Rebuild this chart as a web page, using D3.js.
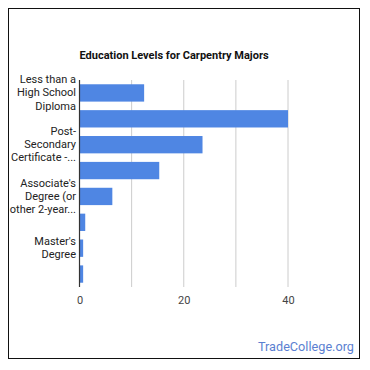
<!DOCTYPE html>
<html><head><meta charset="utf-8">
<script src="https://cdn.jsdelivr.net/npm/d3@7"></script>
<style>body{margin:0;background:#fff}svg{display:block}text{font-family:Roboto,sans-serif}</style>
</head><body><svg id="c" width="370" height="370"></svg>
<script>
const categories = ["Less than a High School Diploma","High School Diploma","Post-Secondary Certificate","Some College Courses","Associate's Degree (or other 2-year degree)","Bachelor's Degree","Master's Degree","Doctoral Degree"];
const values = [12.4, 40, 23.6, 15.3, 6.3, 1.1, 0.7, 0.7];
const labelLines = [["Less than a","High School","Diploma"],null,["Post-","Secondary","Certificate -..."],null,["Associate's","Degree (or","other 2-year..."],null,["Master's","Degree"],null];
const tickValues = [0, 20, 40];
const gridValues = [10, 20, 30, 40];
const title = "Education Levels for Carpentry Majors";
const footer = "TradeCollege.org";

(function(){
const svg = d3.select("#c");
svg.append("rect").attr("x",8.5).attr("y",8.5).attr("width",351).attr("height",350)
  .attr("fill","#fff").attr("stroke","#111").attr("stroke-width",1);

const pLeft = 79.5, pRight = 288, pTop = 80, pBottom = 287;
const x = d3.scaleLinear().domain([0,40]).range([pLeft,pRight]);
const y = d3.scaleBand().domain(categories).range([pTop,pBottom]).paddingInner(0.33).paddingOuter(0.165);

svg.append("g").selectAll("line").data(gridValues).join("line")
  .attr("x1",d=>x(d)).attr("x2",d=>x(d)).attr("y1",pTop).attr("y2",pBottom)
  .attr("stroke","#cccccc").attr("stroke-width",1);

svg.append("g").selectAll("rect").data(values).join("rect")
  .attr("x",x(0)).attr("y",(d,i)=>y(categories[i]))
  .attr("width",d=>x(d)-x(0)).attr("height",y.bandwidth())
  .attr("fill","#4f86e3");

svg.append("line").attr("x1",x(0)).attr("x2",x(0)).attr("y1",pTop).attr("y2",pBottom)
  .attr("stroke","#333").attr("stroke-width",1.2);

const xAxis = d3.axisBottom(x).tickValues(tickValues).tickSize(0).tickPadding(0);
const ga = svg.append("g").attr("transform",`translate(0,${pBottom})`).call(xAxis);
ga.select(".domain").remove();
ga.selectAll("text").attr("dy",null).attr("y",17).attr("font-size",11).attr("fill","#444").attr("font-family","Roboto, sans-serif");

const lg = svg.append("g");
labelLines.forEach((lines,i)=>{
  if(!lines) return;
  const cy = y(categories[i]) + y.bandwidth()/2;
  const lh = 13.2;
  const t = lg.append("text").attr("text-anchor","end").attr("font-size",11).attr("fill","#222");
  lines.forEach((s,j)=>{
    t.append("tspan").attr("x",76).attr("y",cy + (j-(lines.length-1)/2)*lh + 3.5).text(s);
  });
});

svg.append("text").attr("x",pLeft).attr("y",58.5).attr("font-size",11).attr("font-weight","bold")
  .attr("fill","#111").text(title);

svg.append("text").attr("x",354).attr("y",351).attr("text-anchor","end").attr("font-size",12.7)
  .attr("fill","#5b7fd1").text(footer);
})();
</script></body></html>
